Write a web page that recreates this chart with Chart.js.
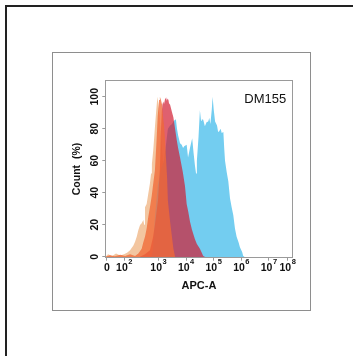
<!DOCTYPE html>
<html>
<head>
<meta charset="utf-8">
<script src="https://cdn.jsdelivr.net/npm/chart.js@4.4.1/dist/chart.umd.min.js"></script>
<style>
  html, body { margin: 0; padding: 0; background: #fff; }
  .rule { position: absolute; background: #222; }
  #ruleLeft { left: 5px; top: 5px; width: 2px; height: 351px; }
  #ruleTop { left: 5px; top: 5px; width: 348px; height: 2px; }
  #panel { position: absolute; left: 52px; top: 52px; width: 257px; height: 257px; border: 1px solid #8e8e8e; }
  canvas { display: block; }
</style>
</head>
<body>
<div class="rule" id="ruleLeft"></div>
<div class="rule" id="ruleTop"></div>
<div id="panel"><canvas id="chart" width="257" height="257"></canvas></div>
<script>
// x is in log-decade display units (10^3 -> 3), y is count in %
const xTickPos = [1.13, 1.76, 3, 4, 5, 6, 7, 7.68];
const xTickBase = ['0', '10', '10', '10', '10', '10', '10', '10'];
const xTickExp = ['', '2', '3', '4', '5', '6', '7', '8'];
const yTicks = [0, 20, 40, 60, 80, 100];

const tanX = [1.08, 1.17, 1.32, 1.46, 1.61, 1.75, 1.86, 1.97, 2.09, 2.15, 2.21, 2.27, 2.33, 2.39, 2.45, 2.48, 2.51, 2.57, 2.63, 2.69, 2.73, 2.76, 2.81, 2.87, 2.92, 2.96, 2.99, 3.04, 3.09, 3.16, 3.27, 3.42, 3.56, 3.71];
const tanY = [0, 1.5, 0.5, 2, 0.8, 1.5, 2.5, 4, 7, 9.4, 12.5, 16.7, 19.8, 21, 23, 20, 31, 33, 39.6, 46, 52, 58, 66.7, 81, 92, 100, 96, 88, 75, 60, 40, 20, 6, 0];

const orangeX = [1.08, 1.24, 1.42, 1.61, 1.79, 1.97, 2.15, 2.27, 2.39, 2.45, 2.51, 2.57, 2.63, 2.69, 2.75, 2.81, 2.87, 2.93, 2.97, 3.02, 3.05, 3.09, 3.13, 3.16, 3.20, 3.24, 3.27, 3.31, 3.34, 3.42, 3.49, 3.54, 3.60];
const orangeY = [0, 1, 0.3, 1.2, 0.5, 1.5, 0.5, 2, 5, 9, 12.5, 17.7, 25, 31, 37.5, 46, 54, 73, 87.5, 98, 100, 98, 95, 88, 82, 72, 62, 50, 35, 22, 12, 5, 0];

const redX = [2.33, 2.51, 2.69, 2.80, 2.87, 2.98, 3.05, 3.09, 3.12, 3.14, 3.17, 3.20, 3.24, 3.27, 3.30, 3.33, 3.36, 3.38, 3.42, 3.48, 3.54, 3.60, 3.66, 3.71, 3.78, 3.88, 3.96, 4.02, 4.08, 4.14, 4.21, 4.32, 4.39, 4.50, 4.58, 4.62, 4.68];
const redY = [0, 1.5, 4, 12, 20, 35, 55, 80, 91, 95, 97, 95.5, 99, 100, 97.5, 99, 98, 96, 95, 91, 87, 80, 73, 68, 62, 53, 44, 33, 28, 22, 17, 11, 8, 5, 2, 0.5, 0];

const blueX = [2.73, 2.80, 2.87, 2.98, 3.09, 3.20, 3.27, 3.34, 3.42, 3.49, 3.56, 3.63, 3.67, 3.71, 3.78, 3.84, 3.89, 3.93, 4.02, 4.07, 4.14, 4.22, 4.27, 4.32, 4.36, 4.39, 4.45, 4.50, 4.54, 4.57, 4.62, 4.68, 4.74, 4.80, 4.84, 4.88, 4.93, 4.96, 5.00, 5.05, 5.12, 5.16, 5.20, 5.25, 5.29, 5.35, 5.38, 5.41, 5.47, 5.53, 5.59, 5.65, 5.71, 5.77, 5.83, 5.90, 5.95, 6.03, 6.07, 6.12];
const blueY = [0, 4, 25, 45, 55, 60, 70, 80, 82, 83, 85, 86, 80, 76, 71, 70, 68, 69, 70, 62, 68, 74, 65, 57, 52, 60, 75, 91.5, 85, 86, 85.6, 81.5, 84, 84.6, 86.7, 83, 92, 100, 92, 84.6, 82, 78, 78.4, 80, 77.3, 78, 68, 60, 53, 47, 36.5, 31, 26, 17.7, 12.5, 9, 6, 3, 0.5, 0];

const toPoints = (xs, ys) => xs.map((x, i) => ({ x: x, y: ys[i] }));

const fontFamily = '"Liberation Sans", Arial, sans-serif';

// plot frame, panel label and the x tick labels with raised exponents
const frame = {
  id: 'frame',
  afterDraw(chart) {
    const { ctx, chartArea: a } = chart;
    const xs = chart.scales.x;
    ctx.save();
    ctx.strokeStyle = '#9a9a9a';
    ctx.lineWidth = 1;
    ctx.strokeRect(Math.floor(a.left) + 0.5, Math.floor(a.top) + 0.5,
      Math.round(a.right - a.left), Math.round(a.bottom - a.top));

    ctx.fillStyle = '#111';
    ctx.textBaseline = 'alphabetic';
    ctx.textAlign = 'left';
    const baseFont = 'bold 10.5px ' + fontFamily;
    const expFont = 'bold 7.5px ' + fontFamily;
    xTickPos.forEach((v, i) => {
      const px = xs.getPixelForValue(v);
      ctx.font = baseFont;
      const wb = ctx.measureText(xTickBase[i]).width;
      ctx.font = expFont;
      const we = xTickExp[i] ? ctx.measureText(xTickExp[i]).width + 0.5 : 0;
      const x0 = px - (wb + we) / 2;
      ctx.font = baseFont;
      ctx.fillText(xTickBase[i], x0, a.bottom + 13);
      if (xTickExp[i]) {
        ctx.font = expFont;
        ctx.fillText(xTickExp[i], x0 + wb + 0.5, a.bottom + 6.5);
      }
    });

    ctx.font = '13px ' + fontFamily;
    ctx.textAlign = 'right';
    ctx.fillText('DM155', a.right - 6.5, a.top + 22.4);
    ctx.restore();
  }
};

const series = (data, color, order) => ({
  data: data,
  backgroundColor: color,
  borderWidth: 0,
  pointRadius: 0,
  tension: 0,
  fill: 'start',
  order: order
});

new Chart(document.getElementById('chart').getContext('2d'), {
  type: 'line',
  data: {
    datasets: [
      series(toPoints(orangeX, orangeY), 'rgba(239, 105, 55, 0.78)', 1),
      series(toPoints(redX, redY), 'rgba(210, 28, 50, 0.7)', 2),
      series(toPoints(blueX, blueY), 'rgb(115, 205, 240)', 3),
      series(toPoints(tanX, tanY), 'rgb(243, 198, 160)', 4)
    ]
  },
  options: {
    responsive: false,
    animation: false,
    devicePixelRatio: 1,
    layout: { padding: { left: 10, top: 27.3, right: 17.3, bottom: 10 } },
    plugins: { legend: { display: false }, tooltip: { enabled: false } },
    scales: {
      x: {
        type: 'linear',
        min: 1.072,
        max: 7.862,
        afterBuildTicks: (scale) => { scale.ticks = xTickPos.map((v) => ({ value: v })); },
        afterFit: (scale) => { scale.height = 42.3; },
        border: { display: false },
        grid: { drawOnChartArea: false, tickLength: 3, color: '#9a9a9a' },
        ticks: { display: false },
        title: {
          display: true,
          text: 'APC-A',
          color: '#111',
          font: { family: fontFamily, size: 11, weight: 'bold' },
          padding: { top: 0, bottom: 7.7 }
        }
      },
      y: {
        min: -0.6,
        max: 110.3,
        afterBuildTicks: (scale) => { scale.ticks = yTicks.map((v) => ({ value: v })); },
        afterFit: (scale) => { scale.width = 42.3; },
        border: { display: false },
        grid: { drawOnChartArea: false, tickLength: 3, color: '#9a9a9a' },
        ticks: {
          minRotation: 90,
          maxRotation: 90,
          crossAlign: 'center',
          padding: -2,
          color: '#111',
          font: { family: fontFamily, size: 10.5, weight: 'bold' }
        },
        title: {
          display: true,
          text: 'Count  (%)',
          color: '#111',
          font: { family: fontFamily, size: 10.5, weight: 'bold' },
          padding: { top: 7.4, bottom: 0 }
        }
      }
    }
  },
  plugins: [frame]
});
</script>
</body>
</html>
